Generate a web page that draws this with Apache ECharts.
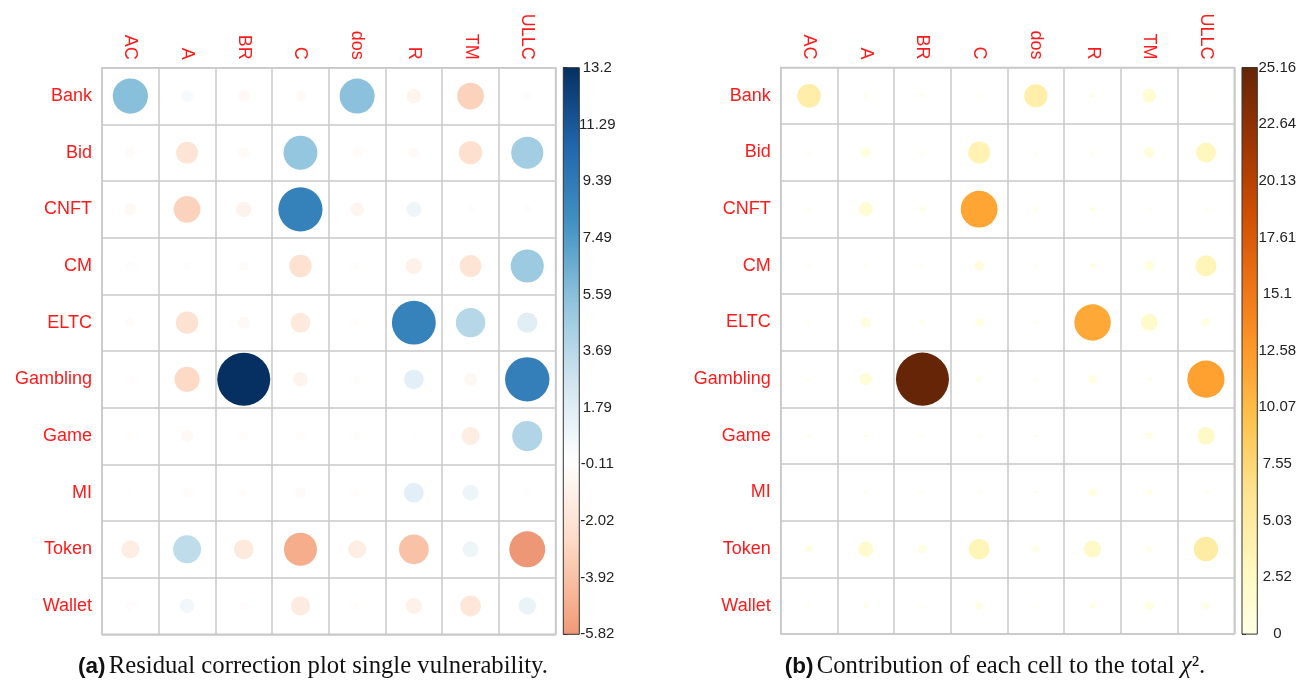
<!DOCTYPE html>
<html>
<head>
<meta charset="utf-8">
<script src="https://cdn.jsdelivr.net/npm/echarts@6/dist/echarts.min.js"></script>
<style>
  html, body { margin: 0; padding: 0; background: #ffffff; }
  #chart { width: 1300px; height: 680px; }
</style>
</head>
<body>
<div id="chart"></div>
<script>
// Vulnerability types (columns) and contract categories (rows)
const columns = ['AC', 'A', 'BR', 'C', 'dos', 'R', 'TM', 'ULLC'];
const rows = ['Bank', 'Bid', 'CNFT', 'CM', 'ELTC', 'Gambling', 'Game', 'MI', 'Token', 'Wallet'];

// Pearson residuals of the chi-squared test, one array per row (columns order as above)
const resBank     = [5.6, 0.5, -0.5, -0.4, 5.5, -0.8, -3.1, 0.3];
const resBid      = [-0.3, -2.0, -0.4, 5.2, -0.3, -0.4, -2.3, 4.6];
const resCNFT     = [-0.5, -3.1, -0.9, 9.0, -0.7, 0.9, 0.2, 0.2];
const resCM       = [-0.2, 0.2, -0.3, -2.1, -0.2, -1.0, -2.0, 4.9];
const resELTC     = [-0.3, -2.1, -0.5, -1.6, -0.2, 8.9, 3.8, 1.7];
const resGambling = [-0.2, -2.7, 13.2, -0.8, -0.2, 1.6, -0.6, 9.1];
const resGame     = [-0.2, -0.5, -0.3, -0.3, -0.2, 0.1, -1.3, 4.0];
const resMI       = [-0.1, -0.3, -0.2, -0.4, -0.2, 1.6, 1.0, 0.2];
const resToken    = [-1.3, 3.4, -1.6, -4.9, -1.3, -3.9, 1.0, -5.82];
const resWallet   = [-0.2, 0.8, -0.2, -1.5, -0.2, -1.0, -1.8, 1.2];

// Contribution (%) of each cell to the total chi-squared
const conBank     = [4.53, 0.04, 0.04, 0.02, 4.37, 0.09, 1.39, 0.01];
const conBid      = [0.01, 0.58, 0.02, 3.90, 0.01, 0.02, 0.76, 3.06];
const conCNFT     = [0.04, 1.39, 0.12, 11.70, 0.07, 0.12, 0.01, 0.01];
const conCM       = [0.01, 0.01, 0.01, 0.64, 0.01, 0.14, 0.58, 3.47];
const conELTC     = [0.01, 0.64, 0.04, 0.37, 0.01, 11.44, 2.09, 0.42];
const conGambling = [0.01, 1.05, 25.16, 0.09, 0.01, 0.37, 0.05, 11.96];
const conGame     = [0.01, 0.04, 0.01, 0.01, 0.01, 0.00, 0.24, 2.31];
const conMI       = [0.00, 0.01, 0.01, 0.02, 0.01, 0.37, 0.14, 0.01];
const conToken    = [0.24, 1.67, 0.37, 3.47, 0.24, 2.20, 0.14, 4.89];
const conWallet   = [0.01, 0.09, 0.01, 0.32, 0.01, 0.14, 0.47, 0.21];

const residuals = [resBank, resBid, resCNFT, resCM, resELTC, resGambling, resGame, resMI, resToken, resWallet];
const contributions = [conBank, conBid, conCNFT, conCM, conELTC, conGambling, conGame, conMI, conToken, conWallet];

// Colour-bar tick labels
const residualTicks = [-5.82, -3.92, -2.02, -0.11, 1.79, 3.69, 5.59, 7.49, 9.39, 11.29, 13.2];
const contribTicks = [0, 2.52, 5.03, 7.55, 10.07, 12.58, 15.1, 17.61, 20.13, 22.64, 25.16];

// Palettes
const RDBU = ['#67001F', '#B2182B', '#D6604D', '#F4A582', '#FDDBC7', '#FFFFFF',
              '#D1E5F0', '#92C5DE', '#4393C3', '#2166AC', '#053061'];
const YLORBR = ['#FFFFE5', '#FFF7BC', '#FEE391', '#FEC44F', '#FE9929',
                '#EC7014', '#CC4C02', '#993404', '#662506'];

function hexToRgb(h) {
  const n = parseInt(h.slice(1), 16);
  return [(n >> 16) & 255, (n >> 8) & 255, n & 255];
}
function ramp(palette, lo, hi, v) {
  let t = (v - lo) / (hi - lo);
  t = Math.max(0, Math.min(1, t));
  const pos = t * (palette.length - 1);
  const i = Math.min(Math.floor(pos), palette.length - 2);
  const f = pos - i;
  const a = hexToRgb(palette[i]), b = hexToRgb(palette[i + 1]);
  const c = a.map((x, k) => Math.round(x + (b[k] - x) * f));
  return 'rgb(' + c.join(',') + ')';
}

const FONT = '"Liberation Sans", Arial, Helvetica, sans-serif';
const SERIF = '"Liberation Serif", "Times New Roman", serif';
const GRID_W = 453.6, GRID_H = 566.6;
const CELL = GRID_W / columns.length;

// Panel geometry
const panels = [
  {
    left: 102, top: 67.7, barLeft: 563.3, barWidth: 16,
    matrix: residuals, ticks: residualTicks,
    sizeMax: 13.2, lo: -5.82, hi: 13.2,
    color: v => ramp(RDBU, -13.2, 13.2, v), labelMargin: 18
  },
  {
    left: 780.7, top: 67.5, barLeft: 1242, barWidth: 15.3,
    matrix: contributions, ticks: contribTicks,
    sizeMax: 25.16, lo: 0, hi: 25.16,
    color: v => ramp(YLORBR, 0, 25.16, v), labelMargin: 20
  }
];

const grid = [], xAxis = [], yAxis = [], series = [];

panels.forEach((p) => {
  const gMain = grid.length;
  grid.push({
    left: p.left, top: p.top, width: GRID_W, height: GRID_H,
    show: true, borderColor: '#c9c9c9', borderWidth: 1.5, backgroundColor: 'transparent'
  });
  xAxis.push({
    gridIndex: gMain, type: 'category', data: columns, position: 'top',
    axisLine: { show: false }, axisTick: { show: false },
    splitLine: { show: true, interval: 0, lineStyle: { color: '#c9c9c9', width: 1.5 } },
    axisLabel: { rotate: 90, interval: 0, color: '#ff1a1a', fontSize: 18, margin: 8, fontFamily: FONT }
  });
  yAxis.push({
    gridIndex: gMain, type: 'category', data: rows, inverse: true,
    axisLine: { show: false }, axisTick: { show: false },
    splitLine: { show: true, interval: 0, lineStyle: { color: '#c9c9c9', width: 1.5 } },
    axisLabel: { interval: 0, color: '#ff1a1a', fontSize: 18, margin: 10, fontFamily: FONT }
  });

  const cells = [];
  p.matrix.forEach((row, r) => row.forEach((v, c) => cells.push([c, r, v])));
  series.push({
    type: 'scatter', xAxisIndex: gMain, yAxisIndex: gMain,
    data: cells, silent: true, z: 3,
    symbol: 'circle',
    // circle area follows |value|; the extra 2px is the outline drawn round each circle
    symbolSize: d => 0.9 * CELL * Math.sqrt(Math.abs(d[2]) / p.sizeMax) + 2,
    itemStyle: { opacity: 1, color: prm => p.color(prm.value[2]) }
  });

  // colour bar
  const gBar = grid.length;
  grid.push({ left: p.barLeft, top: p.top, width: p.barWidth, height: GRID_H });
  xAxis.push({ gridIndex: gBar, type: 'value', min: 0, max: 1, show: false });
  yAxis.push({
    gridIndex: gBar, type: 'value', min: p.lo, max: p.hi, position: 'right',
    axisLine: { show: false }, splitLine: { show: false },
    axisTick: { show: true, customValues: p.ticks, length: 4, lineStyle: { color: '#333', width: 1 } },
    axisLabel: {
      customValues: p.ticks, formatter: v => String(v), align: 'center',
      margin: p.labelMargin, fontSize: 15, color: '#222', fontFamily: FONT
    }
  });
  const stops = [];
  const N = 60;
  for (let i = 0; i <= N; i++) {
    const v = p.hi - (p.hi - p.lo) * i / N;
    stops.push({ offset: i / N, color: p.color(v) });
  }
  series.push({
    type: 'custom', xAxisIndex: gBar, yAxisIndex: gBar, silent: true,
    data: [[p.lo, p.hi]],
    renderItem: (params, api) => {
      const a = api.coord([0, api.value(1)]);
      const b = api.coord([1, api.value(0)]);
      return {
        type: 'rect',
        shape: { x: a[0], y: a[1], width: b[0] - a[0], height: b[1] - a[1] },
        style: { fill: new echarts.graphic.LinearGradient(0, 0, 0, 1, stops), stroke: '#333', lineWidth: 1 }
      };
    }
  });
});

const chart = echarts.init(document.getElementById('chart'), null, { renderer: 'canvas' });
chart.setOption({
  animation: false,
  backgroundColor: '#ffffff',
  grid, xAxis, yAxis, series,
  graphic: [
    {
      type: 'text', x: 313, y: 667,
      style: {
        text: '{b|(a)} {r|Residual correction plot single vulnerability.}',
        align: 'center', verticalAlign: 'middle', fill: '#111',
        rich: {
          b: { fontFamily: FONT, fontWeight: 'bold', fontSize: 22.5, fill: '#111' },
          r: { fontFamily: SERIF, fontSize: 24.7, fill: '#111' }
        }
      }
    },
    {
      type: 'text', x: 995, y: 667,
      style: {
        text: '{b|(b)} {r|Contribution of each cell to the total }{i|χ}{r|².}',
        align: 'center', verticalAlign: 'middle', fill: '#111',
        rich: {
          b: { fontFamily: FONT, fontWeight: 'bold', fontSize: 22.5, fill: '#111' },
          r: { fontFamily: SERIF, fontSize: 24.7, fill: '#111' },
          i: { fontFamily: SERIF, fontStyle: 'italic', fontSize: 24.7, fill: '#111' }
        }
      }
    }
  ]
});
</script>
</body>
</html>
